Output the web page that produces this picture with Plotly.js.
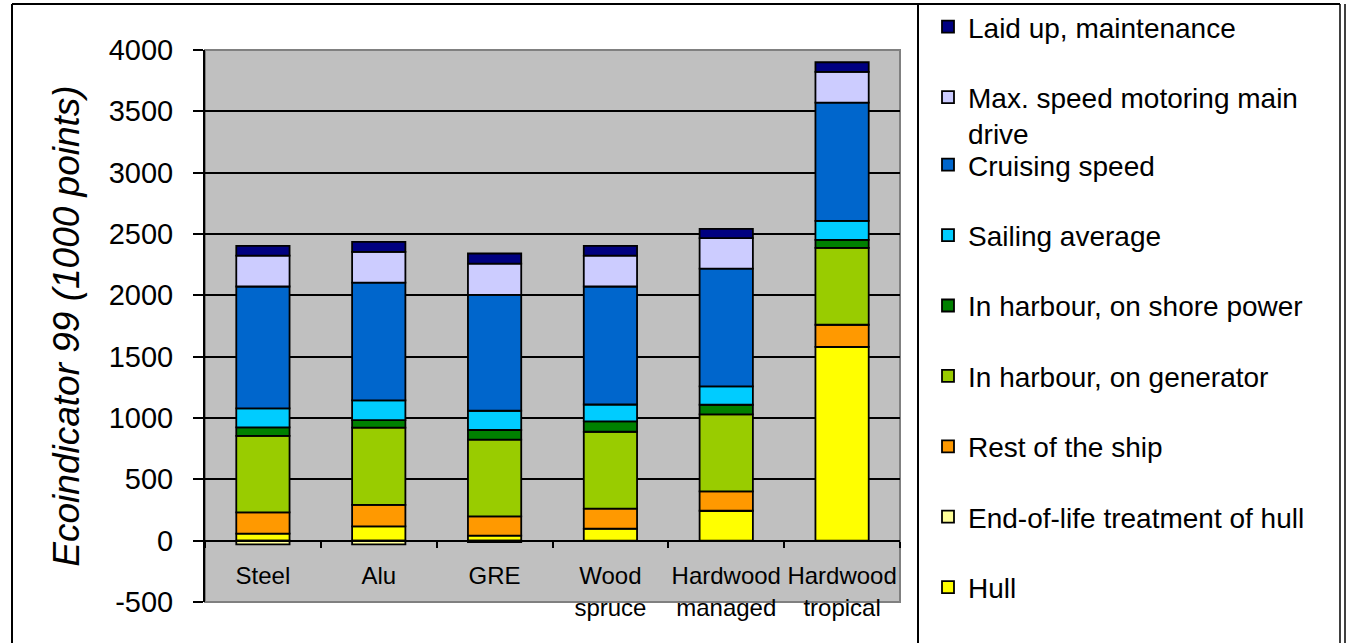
<!DOCTYPE html>
<html>
<head>
<meta charset="utf-8">
<script src="https://cdn.plot.ly/plotly-3.0.1.min.js"></script>
<style>html,body{margin:0;padding:0;background:#fff;}#chart{width:1355px;height:643px;}</style>
</head>
<body>
<div id="chart"></div>
<script>
var categories = ['Steel', 'Alu', 'GRE', 'Wood<br>spruce', 'Hardwood<br>managed', 'Hardwood<br>tropical'];
var hull        = [57, 117, 41, 98, 244, 1580];
var endOfLife   = [-30, -30, -12, 0, 0, 0];
var restOfShip  = [174, 174, 157, 163, 158, 180];
var harbourGen  = [624, 630, 625, 627, 627, 627];
var harbourShore= [68, 62, 79, 84, 79, 65];
var sailing     = [155, 160, 157, 138, 149, 155];
var cruising    = [994, 961, 945, 962, 961, 964];
var maxSpeed    = [252, 250, 255, 252, 248, 250];
var laidUp      = [79, 82, 82, 79, 76, 79];
var yTicks      = [-500, 0, 500, 1000, 1500, 2000, 2500, 3000, 3500, 4000];
var yTickLabels = ['-500', '0', '500', '1000', '1500', '2000', '2500', '3000', '3500', '4000'];

var series = [
  {name: 'Hull', y: hull, color: '#FFFF00', legend: 'legend2'},
  {name: 'End-of-life treatment of hull', y: endOfLife, color: '#FFFF99', legend: 'legend2'},
  {name: 'Rest of the ship', y: restOfShip, color: '#FF9900', legend: 'legend2'},
  {name: 'In harbour, on generator', y: harbourGen, color: '#99CC00', legend: 'legend2'},
  {name: 'In harbour, on shore power', y: harbourShore, color: '#008000', legend: 'legend2'},
  {name: 'Sailing average', y: sailing, color: '#00CCFF', legend: 'legend2'},
  {name: 'Cruising speed', y: cruising, color: '#0066CC', legend: 'legend2'},
  {name: 'Max. speed motoring main<br>drive', y: maxSpeed, color: '#CCCCFF', legend: 'legend'},
  {name: 'Laid up, maintenance', y: laidUp, color: '#000080', legend: 'legend'}
];

var data = series.map(function (s, i) {
  return {
    type: 'bar',
    x: categories,
    y: s.y,
    name: s.name,
    legend: s.legend,
    legendgroup: 'g' + i,
    legendrank: 100 - i,
    width: 0.46,
    marker: {color: s.color, line: {color: '#000000', width: 1.8}},
    hoverinfo: 'name+y'
  };
});

var FONT = 'Liberation Sans, Arial, sans-serif';
function px(v) { return (v - 205) / 695; }
function py(v) { return (602 - v) / 552; }

var layout = {
  width: 1355,
  height: 643,
  margin: {l: 205, r: 455, t: 50, b: 41, pad: 0, autoexpand: false},
  paper_bgcolor: '#FFFFFF',
  plot_bgcolor: '#C0C0C0',
  barmode: 'relative',
  font: {family: FONT, color: '#000000'},
  showlegend: true,
  xaxis: {
    type: 'category',
    anchor: 'free',
    position: 500 / 4500,
    showline: true, linecolor: '#000000', linewidth: 2,
    ticks: 'outside', tickson: 'boundaries', ticklen: 6, tickwidth: 1.5, tickcolor: '#000000',
    tickangle: 0,
    tickfont: {family: FONT, size: 24, color: '#000000'},
    ticklabelstandoff: 14,
    showgrid: false, zeroline: false, fixedrange: true, automargin: false
  },
  yaxis: {
    range: [-500, 4000],
    tickvals: yTicks,
    ticktext: yTickLabels,
    showline: true, linecolor: '#000000', linewidth: 2,
    ticks: 'outside', ticklen: 10, tickwidth: 1.5, tickcolor: '#000000',
    tickfont: {family: FONT, size: 29, color: '#000000'},
    ticklabelstandoff: 14,
    showgrid: true, gridcolor: '#000000', gridwidth: 2,
    zeroline: true, zerolinecolor: '#000000', zerolinewidth: 2,
    title: {text: '<i>Ecoindicator 99 (1000 points)</i>', font: {family: FONT, size: 37, color: '#000000'}, standoff: 18},
    automargin: false, fixedrange: true
  },
  legend: {
    x: px(928), xanchor: 'left', y: py(2), yanchor: 'top',
    font: {family: FONT, size: 28, color: '#000000'},
    bgcolor: 'rgba(0,0,0,0)', borderwidth: 0,
    traceorder: 'grouped', tracegroupgap: 31, valign: 'top'
  },
  legend2: {
    x: px(928), xanchor: 'left', y: py(140), yanchor: 'top',
    font: {family: FONT, size: 28, color: '#000000'},
    bgcolor: 'rgba(0,0,0,0)', borderwidth: 0,
    traceorder: 'grouped', tracegroupgap: 31, valign: 'top'
  },
  shapes: [
    {type: 'rect', xref: 'paper', yref: 'paper', x0: 0, x1: 1, y0: 0, y1: 1, line: {color: '#808080', width: 2}, layer: 'below'},
    {type: 'line', xref: 'paper', yref: 'paper', x0: px(12), x1: px(12), y0: py(4), y1: py(650), line: {color: '#000000', width: 2}},
    {type: 'line', xref: 'paper', yref: 'paper', x0: px(12), x1: px(1340), y0: py(4), y1: py(4), line: {color: '#000000', width: 2}},
    {type: 'line', xref: 'paper', yref: 'paper', x0: px(918), x1: px(918), y0: py(4), y1: py(650), line: {color: '#000000', width: 2}},
    {type: 'line', xref: 'paper', yref: 'paper', x0: px(1340), x1: px(1340), y0: py(4), y1: py(650), line: {color: '#000000', width: 1.5}},
    {type: 'line', xref: 'paper', yref: 'paper', x0: px(1345), x1: px(1345), y0: py(4), y1: py(650), line: {color: '#000000', width: 1.5}}
  ]
};

Plotly.newPlot('chart', data, layout, {displayModeBar: false});
</script>
</body>
</html>
